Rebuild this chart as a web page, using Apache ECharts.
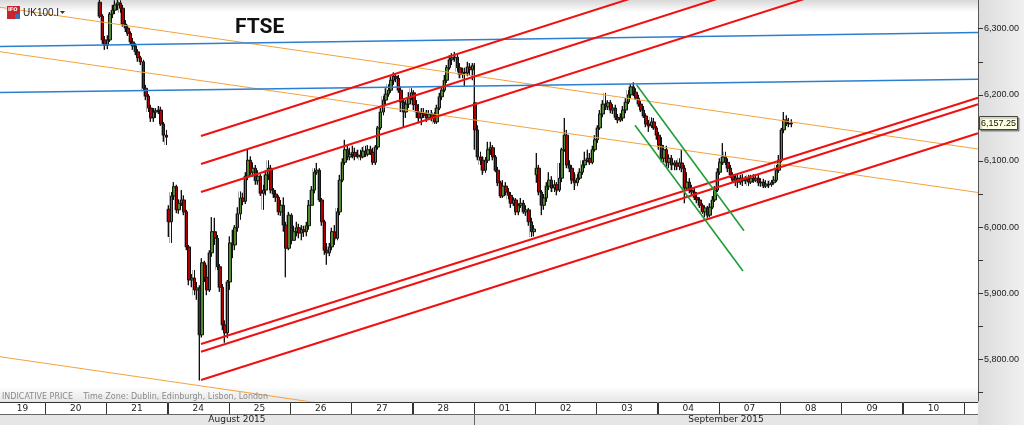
<!DOCTYPE html>
<html><head><meta charset="utf-8">
<script src="https://cdn.jsdelivr.net/npm/echarts@6/dist/echarts.min.js"></script>
<style>html,body{margin:0;padding:0;background:#fff}#c{width:1024px;height:425px}</style>
</head><body><div id="c"></div>
<script>
// ---- DATA ----
// trading days shown on the time strip (24 hourly slots per day, day 0 = 19 Aug)
const dayLabels = ['19','20','21','24','25','26','27','28','01','02','03','04','07','08','09','10','11'];
const monthLabels = [['August 2015', 0, 8], ['September 2015', 8, 17]];
const slotsPerDay = 24;
const firstCandleSlot = 45;       // 20 Aug, 21:00
const viewSlots = [6.37, 389.48]; // visible time range (slots)
const priceRange = [5737, 6343.4];
const yTickValues = [5750,5800,5850,5900,5950,6000,6050,6100,6150,6200,6250,6300];
const yLabelValues = [5800,5900,6000,6100,6200,6300];
// hourly candles: [open, close, low, high]
const candles = [
[6340,6319,6316,6352],[6319,6283,6277,6322],[6283,6275,6268,6289],
// 21 Aug
[6275,6283,6269,6290],[6283,6322,6280,6325],[6322,6328,6316,6336],[6328,6336,6322,6343],[6336,6339,6328,6348],[6339,6331,6324,6343],
[6331,6307,6303,6336],[6307,6301,6295,6313],[6301,6293,6289,6306],[6293,6280,6275,6296],[6280,6274,6268,6286],[6274,6265,6260,6278],
[6265,6256,6250,6269],[6256,6250,6245,6259],[6250,6210,6207,6253],[6210,6198,6192,6215],[6198,6180,6174,6201],[6180,6165,6159,6185],
[6165,6174,6159,6180],[6174,6176,6165,6180],[6176,6177,6171,6183],[6177,6156,6153,6182],[6156,6139,6129,6159],[6139,6136,6124,6147],
// 24 Aug
[6027,6008,5985,6033],[6008,6047,5976,6053],[6047,6061,6041,6068],[6061,6026,6021,6064],[6026,6036,6020,6042],[6036,6041,6032,6056],
[6041,6023,6018,6048],[6023,5970,5965,6026],[5970,5920,5912,5973],[5920,5923,5909,5929],[5923,5905,5897,5935],[5905,5908,5890,5917],
[5908,5837,5768,5912],[5837,5946,5833,5953],[5946,5924,5917,5949],[5924,5905,5897,5943],[5905,5961,5902,5965],[5961,5993,5955,6015],
[5993,5983,5973,6014],[5983,5940,5935,5988],[5940,5909,5902,5944],[5909,5852,5844,5914],[5852,5840,5825,5859],[5840,5917,5832,5920],
// 25 Aug
[5917,5976,5905,5986],[5976,5973,5953,5996],[5973,5999,5965,6003],[5999,6020,5993,6030],[6020,6044,6011,6054],[6044,6039,6033,6052],
[6039,6077,6035,6083],[6077,6101,6071,6117],[6101,6083,6079,6107],[6083,6089,6076,6098],[6089,6070,6064,6094],[6070,6077,6064,6086],
[6077,6051,6047,6080],[6051,6056,6026,6064],[6056,6079,6048,6086],[6079,6089,6071,6101],[6089,6056,6051,6094],[6056,6050,6044,6059],
[6050,6045,6038,6056],[6045,6023,6018,6048],[6023,6033,6017,6041],[6033,6003,5993,6045],[6003,5968,5924,6008],[5968,6018,5965,6023],
// 26 Aug
[6018,5980,5974,6021],[5980,5993,5980,6002],[5993,5999,5986,6008],[5999,5991,5983,6005],[5991,5996,5980,6003],[5996,5993,5985,6002],
[5993,6002,5986,6008],[6002,6033,5996,6041],[6033,6056,6033,6062],[6056,6083,6051,6089],[6083,6086,6079,6097],[6086,6041,6038,6089],
[6041,6008,6002,6044],[6008,5965,5958,6011],[5965,5961,5943,5976],[5961,5970,5956,5976],[5970,5993,5965,5999],[5993,5983,5973,6003],
[5983,6023,5980,6029],[6023,6071,6018,6079],[6071,6098,6068,6104],[6098,6117,6094,6132],[6117,6106,6101,6123],[6106,6110,6101,6120],
// 27 Aug
[6110,6113,6104,6123],[6113,6107,6101,6120],[6107,6109,6104,6117],[6109,6106,6101,6117],[6106,6115,6104,6121],[6115,6110,6106,6123],
[6110,6117,6107,6124],[6117,6113,6109,6123],[6113,6098,6094,6120],[6098,6121,6094,6124],[6121,6150,6117,6153],[6150,6174,6147,6180],
[6174,6192,6169,6198],[6192,6201,6186,6210],[6201,6207,6197,6216],[6207,6222,6203,6228],[6222,6228,6215,6234],[6228,6225,6219,6233],
[6225,6207,6203,6230],[6207,6189,6174,6213],[6189,6174,6150,6195],[6174,6186,6165,6192],[6186,6195,6180,6204],[6195,6203,6192,6210],
// 28 Aug
[6203,6185,6177,6207],[6185,6174,6165,6192],[6174,6165,6157,6186],[6165,6172,6154,6180],[6172,6169,6165,6180],[6169,6165,6159,6177],
[6165,6171,6162,6177],[6171,6165,6160,6177],[6165,6159,6156,6174],[6159,6180,6156,6185],[6180,6197,6177,6203],[6197,6207,6192,6213],
[6207,6222,6204,6230],[6222,6241,6218,6245],[6241,6253,6238,6260],[6253,6256,6245,6263],[6256,6257,6250,6265],[6257,6241,6235,6262],
[6241,6231,6225,6248],[6231,6234,6225,6241],[6234,6233,6212,6241],[6233,6242,6228,6250],[6242,6238,6230,6248],[6238,6244,6222,6248],
// 01 Sep
[6188,6147,6117,6248],[6147,6106,6101,6154],[6106,6101,6094,6114],[6101,6086,6079,6107],[6086,6101,6082,6106],[6101,6117,6097,6129],
[6117,6120,6109,6129],[6120,6106,6101,6124],[6106,6086,6083,6109],[6086,6067,6062,6091],[6067,6047,6044,6070],[6047,6062,6044,6071],
[6062,6053,6048,6068],[6053,6048,6042,6059],[6048,6036,6029,6053],[6036,6041,6032,6045],[6041,6023,6018,6044],[6023,6033,6018,6036],
[6033,6036,6029,6044],[6036,6023,6020,6041],[6023,6026,6017,6033],[6026,6008,6002,6029],[6008,5993,5985,6014],[5993,5997,5986,6003],
// 02 Sep
[6079,6089,6067,6112],[6089,6053,6048,6094],[6053,6033,6018,6056],[6033,6044,6026,6050],[6044,6062,6038,6068],[6062,6071,6056,6083],
[6071,6059,6053,6077],[6059,6064,6053,6071],[6064,6056,6048,6068],[6056,6074,6053,6097],[6074,6117,6068,6120],[6117,6139,6114,6165],
[6139,6094,6089,6147],[6094,6089,6083,6101],[6089,6071,6065,6094],[6071,6067,6056,6083],[6067,6074,6062,6080],[6074,6083,6071,6089],
[6083,6094,6079,6101],[6094,6101,6089,6114],[6101,6104,6098,6117],[6104,6098,6094,6112],[6098,6117,6095,6123],[6117,6132,6114,6139],
// 03 Sep
[6132,6150,6127,6154],[6150,6171,6147,6177],[6171,6186,6166,6192],[6186,6182,6177,6203],[6182,6188,6177,6192],[6188,6177,6172,6192],
[6177,6180,6171,6186],[6180,6166,6162,6185],[6166,6162,6157,6171],[6162,6165,6159,6172],[6165,6177,6160,6183],[6177,6189,6172,6195],
[6189,6200,6186,6207],[6200,6212,6195,6216],[6212,6204,6198,6219],[6204,6195,6192,6210],[6195,6186,6182,6200],[6186,6177,6174,6191],
[6177,6168,6165,6183],[6168,6156,6151,6172],[6156,6153,6144,6162],[6153,6159,6150,6166],[6159,6150,6147,6165],[6150,6139,6132,6153],
// 04 Sep
[6139,6124,6117,6144],[6124,6104,6098,6136],[6104,6117,6098,6124],[6117,6098,6091,6123],[6098,6104,6089,6110],[6104,6094,6086,6109],
[6094,6097,6086,6101],[6097,6092,6086,6101],[6092,6097,6086,6104],[6097,6089,6083,6117],[6089,6059,6036,6094],[6059,6068,6056,6083],
[6068,6056,6051,6074],[6056,6053,6048,6064],[6053,6045,6041,6059],[6045,6041,6036,6053],[6041,6033,6029,6045],[6033,6023,6020,6036],
[6023,6029,6015,6033],[6029,6018,6014,6032],[6018,6030,6015,6036],[6030,6041,6027,6047],[6041,6056,6038,6062],[6056,6083,6053,6089],
// 07 Sep
[6083,6098,6079,6104],[6098,6106,6094,6127],[6106,6098,6094,6114],[6098,6089,6083,6104],[6089,6079,6074,6094],[6079,6071,6067,6083],
[6071,6074,6062,6080],[6074,6068,6059,6080],[6068,6074,6064,6079],[6074,6070,6062,6080],[6070,6073,6065,6077],[6073,6068,6062,6079],
[6068,6074,6065,6079],[6074,6071,6067,6080],[6071,6074,6068,6080],[6074,6067,6062,6079],[6067,6068,6061,6074],[6068,6062,6059,6073],
[6062,6065,6059,6071],[6065,6064,6059,6070],[6064,6067,6061,6071],[6067,6071,6064,6077],[6071,6086,6068,6094],[6086,6101,6082,6109],
// 08 Sep
[6101,6147,6098,6150],[6147,6162,6142,6174],[6162,6157,6153,6169],[6157,6156,6151,6165],[6156,6157.25,6151,6163]
];
// drawn trend lines: [[slot, price], [slot, price]]
const blueLines = [[[6.37,6273.1],[389.48,6294.2]], [[6.37,6203.5],[389.48,6223.5]]];
const orangeLines = [[[6.37,6332.4],[389.48,6118.1]], [[6.37,6265.2],[389.48,6052.3]], [[6.37,5803.9],[389.48,5589.5]]];
const redUpperLines = [[[85.11,6137.7],[389.48,6513.7]], [[85.11,6095.4],[389.48,6471.3]], [[85.11,6053.0],[389.48,6429.0]]];
const redLowerLines = [[[85.11,5823.1],[389.48,6195.6]], [[85.11,5811.5],[389.48,6185.7]], [[85.11,5768.7],[389.48,6141.8]]];
const greenLines = [[[255.78,6214.8],[297.82,5994.5]], [[255.12,6153.9],[297.42,5933.5]]];

// ---- CHART ----
const chart = echarts.init(document.getElementById('c'), null, {renderer:'canvas'});
const fmtPrice = v => v.toFixed(2).replace(/\B(?=(\d{3})+(?!\d))/g, ',');
const candleData = candles.map((c, i) => [firstCandleSlot + i + 0.5, c[0], c[1], c[2], c[3]]);
// soft grey halo the platform draws just left of each candle
const haloData = candles.map((c, i) => [firstCandleSlot + i + 0.05, c[0], c[1], c[2], c[3]]);
const lastClose = candles[candles.length-1][1];

function lineSeries(list, color, width) {
  return list.map(seg => ({
    type:'line', xAxisIndex:0, yAxisIndex:0, data: seg, symbol:'none', silent:true,
    lineStyle:{color:color, width:width}, z:5, animation:false
  }));
}

const option = {
  animation:false,
  backgroundColor:'#ffffff',
  grid:[
    {left:0, right:46, top:0, bottom:24, show:false},
    {left:0, right:46, top:402, height:23, show:false}
  ],
  xAxis:[
    {type:'value', gridIndex:0, min:viewSlots[0], max:viewSlots[1], show:false},
    {type:'value', gridIndex:1, min:viewSlots[0], max:viewSlots[1], show:false}
  ],
  yAxis:[
    {type:'value', gridIndex:0, position:'right', min:priceRange[0], max:priceRange[1], splitNumber:12, scale:true,
     axisLine:{show:true, lineStyle:{color:'#555', width:1}},
     axisTick:{show:true, length:5, lineStyle:{color:'#333'}, customValues:yTickValues},
     axisLabel:{show:true, margin:6, fontSize:9, color:'#222', fontFamily:'Liberation Sans',
       customValues:yLabelValues, formatter: v => (Math.round(v) % 100 === 0 ? fmtPrice(v) : '')},
     splitLine:{show:false}},
    {type:'value', gridIndex:1, min:0, max:2, show:false}
  ],
  series:[
    {type:'candlestick', xAxisIndex:0, yAxisIndex:0, data:haloData, barWidth:2, z:2, silent:true,
     itemStyle:{color:'#a0a0a0', color0:'#a0a0a0', borderColor:'#adadad', borderColor0:'#adadad', borderWidth:1}},
    {type:'candlestick', xAxisIndex:0, yAxisIndex:0, data:candleData, barWidth:3, z:3,
     itemStyle:{color:'#4f8a2c', color0:'#b00000', borderColor:'#111', borderColor0:'#111', borderWidth:1}},
    ...lineSeries(orangeLines, '#f2a23c', 1),
    ...lineSeries(blueLines, '#2a7fd0', 1.6),
    ...lineSeries(redUpperLines, '#f01010', 2),
    ...lineSeries(redLowerLines, '#f01010', 2),
    ...lineSeries(greenLines, '#1e9e3a', 1.6),
    {type:'custom', xAxisIndex:1, yAxisIndex:1, clip:true, silent:true,
     data: dayLabels.map((t,i)=>[i*slotsPerDay, (i+1)*slotsPerDay]),
     renderItem:(params, api)=>{
       const p0 = api.coord([api.value(0), 2]);
       const p1 = api.coord([api.value(1), 1]);
       const cs = params.coordSys;
       const l = Math.max(p0[0], cs.x), r = Math.min(p1[0], cs.x + cs.width);
       const children = [{type:'rect', shape:{x:Math.round(p0[0])+0.5, y:Math.round(p0[1])+0.5, width:Math.round(p1[0]-p0[0]), height:Math.round(p1[1]-p0[1])},
         style:{fill:'#ffffff', stroke:'#333', lineWidth:1}}];
       if (r - l > 20) children.push({type:'text', style:{text:dayLabels[params.dataIndex], x:(l+r)/2, y:(p0[1]+p1[1])/2+0.5, align:'center', verticalAlign:'middle', fontSize:9, fill:'#222', fontFamily:'DejaVu Sans'}});
       return {type:'group', children};
     }},
    {type:'custom', xAxisIndex:1, yAxisIndex:1, clip:true, silent:true,
     data: monthLabels.map(m=>[m[1]*slotsPerDay, m[2]*slotsPerDay]),
     renderItem:(params, api)=>{
       const p0 = api.coord([api.value(0), 1]);
       const p1 = api.coord([api.value(1), 0]);
       const cs = params.coordSys;
       const l = Math.max(p0[0], cs.x), r = Math.min(p1[0], cs.x + cs.width);
       return {type:'group', children:[
         {type:'rect', shape:{x:Math.round(p0[0])+0.5, y:Math.round(p0[1])+0.5, width:Math.round(p1[0]-p0[0]), height:Math.round(p1[1]-p0[1])+2},
          style:{fill:'#e6e6e6', stroke:'#666', lineWidth:1}},
         {type:'text', style:{text:monthLabels[params.dataIndex][0], x:(l+r)/2, y:(p0[1]+p1[1])/2, align:'center', verticalAlign:'middle', fontSize:9, fill:'#222', fontFamily:'DejaVu Sans'}}
       ]};
     }}
  ],
  graphic:[
    {type:'rect', z:-10, shape:{x:978, y:0, width:46, height:425},
     style:{fill:new echarts.graphic.LinearGradient(0,0,1,0,[{offset:0,color:'#dcdcdc'},{offset:1,color:'#f0f0f0'}])}},
    {type:'rect', z:-10, shape:{x:0, y:0, width:978, height:12},
     style:{fill:new echarts.graphic.LinearGradient(0,0,0,1,[{offset:0,color:'#d8d8d8'},{offset:1,color:'#ffffff'}])}},
    {type:'rect', z:-10, shape:{x:0, y:386, width:978, height:16},
     style:{fill:new echarts.graphic.LinearGradient(0,0,0,1,[{offset:0,color:'#ffffff'},{offset:1,color:'#e6e6e6'}])}},
    {type:'text', z:20, x:235, y:27.5, style:{text:'FTSE', font:'bold 21px Roboto', fill:'#111', verticalAlign:'middle'}},
    {type:'rect', z:20, shape:{x:7, y:6, width:13, height:13}, style:{fill:'#c8262c'}},
    {type:'text', z:21, x:8, y:10, style:{text:'IFO', font:'bold 5px DejaVu Sans', fill:'#fff', verticalAlign:'middle'}},
    {type:'rect', z:21, shape:{x:15, y:14, width:5, height:5}, style:{fill:'#3a6fc0'}},
    {type:'text', z:20, x:23, y:13.5, style:{text:'UK100.I', font:'10px Liberation Sans', fill:'#222', verticalAlign:'middle'}},
    {type:'polygon', z:20, shape:{points:[[60,11],[65,11],[62.5,14]]}, style:{fill:'#333'}},
    {type:'text', z:20, x:2, y:396.5, style:{text:'INDICATIVE PRICE    Time Zone: Dublin, Edinburgh, Lisbon, London', font:'8px DejaVu Sans', fill:'#8a8a8a', verticalAlign:'middle'}}
  ]
};
chart.setOption(option);

// last-price tag on the price axis
const tagY = chart.convertToPixel({yAxisIndex:0}, lastClose);
chart.setOption({graphic: option.graphic.concat([
  {type:'rect', z:30, shape:{x:979.5, y:Math.round(tagY)-6.5, width:38, height:13},
   style:{fill:'#ffffe1', stroke:'#444', lineWidth:1, shadowColor:'rgba(0,0,0,0.35)', shadowOffsetX:1.5, shadowOffsetY:1.5, shadowBlur:1}},
  {type:'text', z:31, x:998.5, y:Math.round(tagY)+0.5, style:{text:fmtPrice(lastClose), font:'9px Liberation Sans', fill:'#111', align:'center', verticalAlign:'middle'}}
])});
</script></body></html>
